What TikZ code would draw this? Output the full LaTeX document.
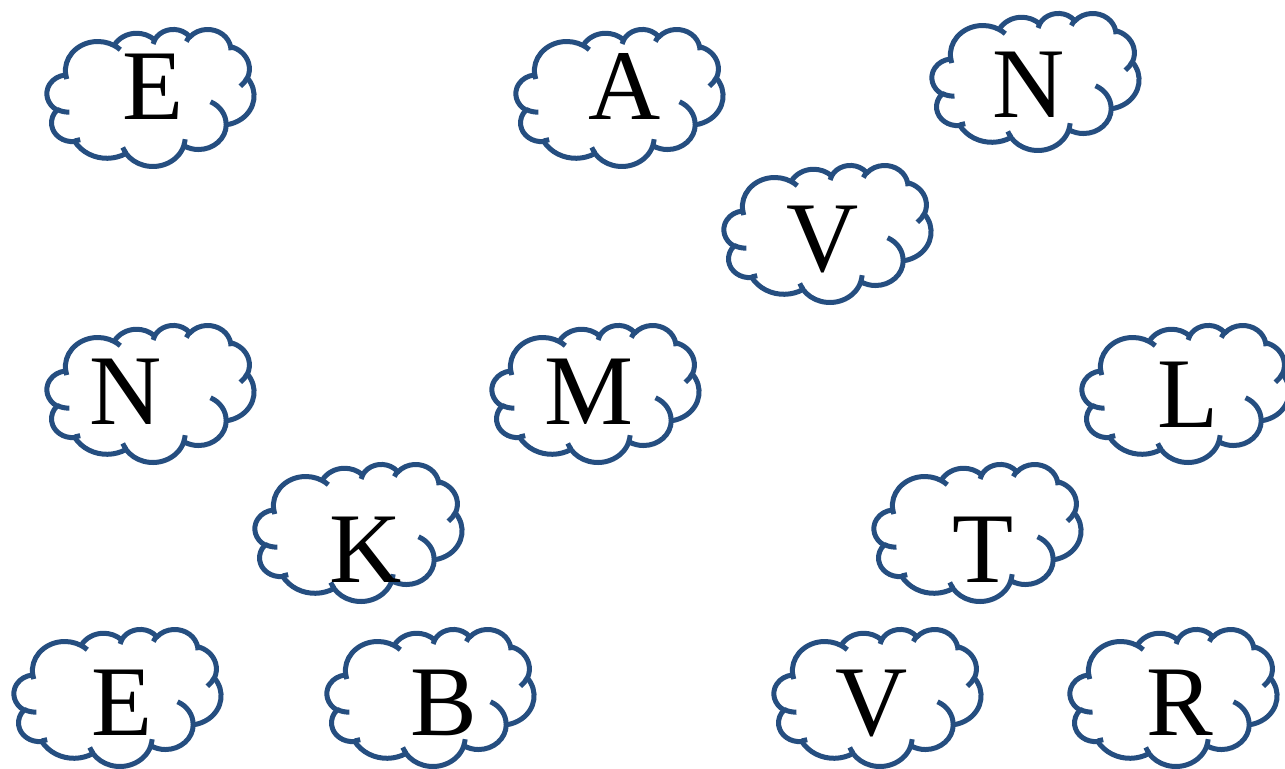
\documentclass[tikz,border=0pt]{standalone}
\usepackage{fontspec}
\setmainfont{Liberation Serif}
\definecolor{cloudblue}{RGB}{37,78,128}
\newcommand\varc[4]{%
  \pgfextra{%
    \pgfmathparse{atan2((#1)*sin(#3),(#2)*cos(#3))}\xdef\vaS{\pgfmathresult}%
    \pgfmathparse{atan2((#1)*sin((#3)+(#4)),(#2)*cos((#3)+(#4)))}\xdef\vaE{\pgfmathresult}%
    \pgfmathparse{mod((\vaE)-(\vaS)+720,360)}\xdef\vaD{\pgfmathresult}%
  }%
  arc[start angle=\vaS, delta angle=\vaD, x radius=#1, y radius=#2]%
}
\newcommand\cloudouter{%
  (3.900,14.370)
  \varc{6.753}{9.190}{-190.4875}{123.7805}
  \varc{5.333}{7.267}{-144.1024}{89.9452}
  \varc{4.365}{5.945}{-145.8079}{99.7230}
  \varc{4.857}{6.595}{-130.9861}{117.2417}
  \varc{5.333}{7.273}{-78.7089}{109.0269}
  \varc{6.775}{9.220}{-46.2673}{130.2690}
  \varc{5.785}{7.867}{0.6250}{114.0333}
  \varc{6.752}{9.215}{22.4516}{115.1726}
  \varc{7.720}{10.543}{66.2426}{75.7110}
  \varc{4.360}{5.918}{-274.9421}{146.7356}
  \varc{4.345}{5.945}{-246.8285}{152.5189}
  -- cycle
}
\newcommand\cloudinner{%
  (4.693,26.177) \varc{4.345}{5.945}{86.7420}{26.4295}
  (6.928,34.899) \varc{4.360}{5.918}{73.6105}{11.4475}
  (16.478,39.090) \varc{6.752}{9.215}{137.6242}{14.0811}
  (28.827,34.751) \varc{6.752}{9.215}{6.4533}{15.9984}
  (34.129,22.954) \varc{5.785}{7.867}{-70.2924}{70.9174}
  (41.798,15.354) \varc{5.333}{7.273}{30.3180}{27.7515}
  (38.324,5.426) \varc{4.857}{6.595}{-13.7443}{14.8589}
  (29.078,3.952) \varc{4.857}{6.595}{-149.1815}{18.1954}
  (22.141,4.720) \varc{4.365}{5.945}{-163.4943}{17.6864}
  (14.000,5.192) \varc{6.753}{9.190}{-66.7070}{12.3194}
  (4.127,15.789) \varc{6.753}{9.190}{157.6544}{11.8582}
}
\tikzset{
  cloudline/.style={draw=cloudblue, line width=2.5pt, line join=round},
  letter/.style={anchor=base, inner sep=0pt, text=black,
    font=\fontsize{50pt}{60pt}\selectfont}
}
% #1 left, #2 top (outer edges, px)
\newcommand\drawcloud[2]{%
  \begin{scope}[shift={(#1+2,#2+2)}, xscale=207/43.2, yscale=137/43.2]
    \filldraw[cloudline, fill=white] \cloudouter;
    \draw[cloudline] \cloudinner;
  \end{scope}}
\begin{document}
\begin{tikzpicture}[x=0.5pt, y=-0.5pt]
  \useasboundingbox (0,0) rectangle (1285,769);
  \fill[white] (0,0) rectangle (1285,769);
  \drawcloud{45}{27}
  \drawcloud{514}{27}
  \drawcloud{930}{11}
  \drawcloud{722}{163}
  \drawcloud{45}{323}
  \drawcloud{490}{323}
  \drawcloud{1080}{323}
  \drawcloud{253}{462}
  \drawcloud{872}{462}
  \drawcloud{12}{627}
  \drawcloud{325}{627}
  \drawcloud{772}{627}
  \drawcloud{1068}{627}
  \node[letter] (e1) at (153,120) {E};
  \node[letter] (a) at (625,120) {A};
  \node[letter] (n1) at (1029,118) {N};
  \node[letter] (v1) at (823,272) {V};
  \node[letter] (n2) at (126,425) {N};
  \node[letter] (m) at (589,425) {M};
  \node[letter] (l) at (1188,428) {L};
  \node[letter] (k) at (366,583) {K};
  \node[letter] (t) at (983,583) {T};
  \node[letter] (e2) at (122,735) {E};
  \node[letter] (b) at (444,735) {B};
  \node[letter] (v2) at (872,735) {V};
  \node[letter] (r) at (1180,735) {R};
\end{tikzpicture}
\end{document}
